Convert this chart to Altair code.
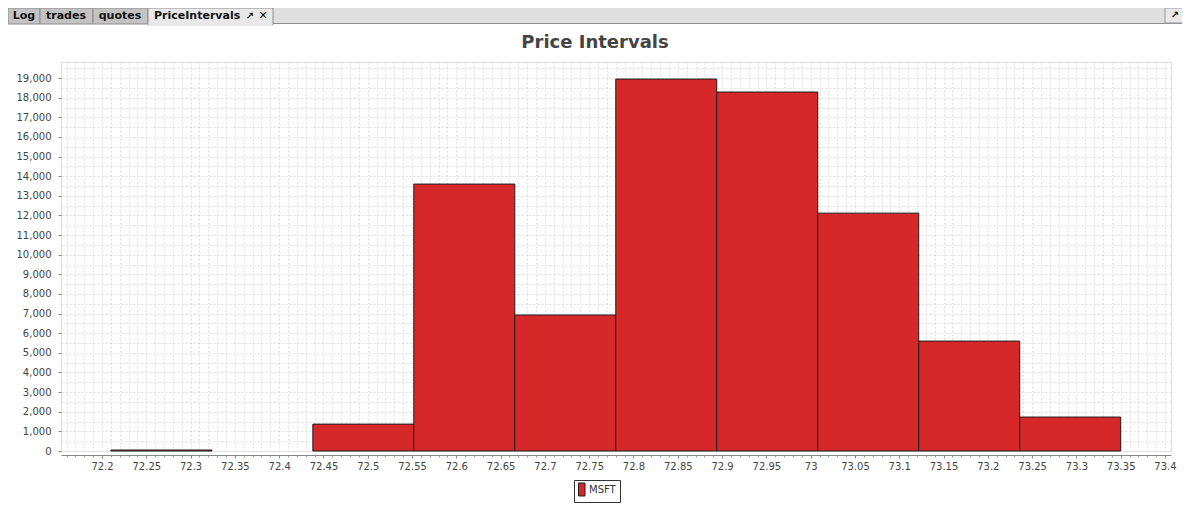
import altair as alt
import pandas as pd

# ---- data ----
bin_start = [72.21, 72.324, 72.438, 72.552, 72.666, 72.78, 72.894, 73.008, 73.122, 73.236]
bin_end = [72.324, 72.438, 72.552, 72.666, 72.78, 72.894, 73.008, 73.122, 73.236, 73.35]
counts = [50, 0, 1370, 13600, 6930, 18950, 18290, 12120, 5600, 1730]
series_name = "MSFT"

x_tick_values = [72.2, 72.25, 72.3, 72.35, 72.4, 72.45, 72.5, 72.55, 72.6, 72.65, 72.7,
                 72.75, 72.8, 72.85, 72.9, 72.95, 73.0, 73.05, 73.1, 73.15, 73.2, 73.25,
                 73.3, 73.35, 73.4]
y_tick_values = [0, 1000, 2000, 3000, 4000, 5000, 6000, 7000, 8000, 9000, 10000, 11000,
                 12000, 13000, 14000, 15000, 16000, 17000, 18000, 19000]
x_grid_values = [round(72.16 + 0.01 * i, 2) for i in range(125)]
y_grid_values = [500 * i for i in range(40)]

title_text = "Price Intervals"
tab_labels = ["Log", "trades", "quotes"]
active_tab = "PriceIntervals"

df = pd.DataFrame({
    "start": bin_start,
    "end": bin_end,
    "count": counts,
    "series": [series_name] * len(counts),
})
deco = pd.DataFrame({"d": [0]})

FONT = "DejaVu Sans"
x_scale = alt.Scale(domain=[72.1537, 73.4068], nice=False, zero=False)
y_scale = alt.Scale(domain=[0, 19820], nice=False, zero=True)


def rect(x1, x2, y1, y2, fill, stroke=None):
    kw = {"fill": fill}
    if stroke:
        kw["stroke"] = stroke
        kw["strokeWidth"] = 1
    return alt.Chart(deco).mark_rect(**kw).encode(
        x=alt.value(x1), x2=alt.value(x2), y=alt.value(y1), y2=alt.value(y2))


def label(txt, x, y, size=11, weight="bold", align="center", color="#111"):
    return alt.Chart(deco).mark_text(
        text=txt, font=FONT, fontSize=size, fontWeight=weight, align=align,
        baseline="alphabetic", color=color).encode(x=alt.value(x), y=alt.value(y))


# ---- window chrome (tab bar) ----
decos = [
    rect(-53, 1121, -54, -38, "#dfdfdf"),
    rect(-53, 1121, -39, -38, "#8c8c8c"),
    rect(-53, -21, -54, -38, "#c3c3c3", "#8c8c8c"),
    rect(-21, 32, -54, -38, "#c3c3c3", "#8c8c8c"),
    rect(32, 87, -54, -38, "#c3c3c3", "#8c8c8c"),
    rect(87, 212, -54, -37, "#e8e8e8", "#8c8c8c"),
    rect(87.5, 211.5, -38.5, -36, "#e8e8e8"),
    rect(1104, 1125, -54, -39, "#e8e8e8", "#999999"),
    label(tab_labels[0], -37, -43),
    label(tab_labels[1], 5, -43),
    label(tab_labels[2], 59, -43),
    label(active_tab, 93, -43, align="left"),
    label("\u2197", 189, -43, size=10),
    label("\u2715", 202, -43, size=11),
    label("\u2197", 1114, -44, size=10),
]

# ---- grid ----
grid = alt.Chart(df).mark_point(opacity=0).encode(
    x=alt.X("start:Q", scale=x_scale,
            axis=alt.Axis(orient="bottom", values=x_grid_values, grid=True,
                          gridColor="#dedede", gridDash=[2, 2], gridWidth=1,
                          labels=False, ticks=False, domain=False, title=None)),
    y=alt.Y("count:Q", scale=y_scale,
            axis=alt.Axis(orient="left", values=y_grid_values, grid=True,
                          gridColor="#dedede", gridDash=[2, 2], gridWidth=1,
                          labels=False, ticks=False, domain=False, title=None)),
)

minor = alt.Chart(df).mark_point(opacity=0).encode(
    x=alt.X("start:Q", scale=x_scale,
            axis=alt.Axis(orient="bottom", offset=4, values=x_grid_values, grid=False,
                          labels=False, ticks=True, tickSize=2, tickColor="#999999",
                          domain=False, title=None)),
)

bars = alt.Chart(df).transform_filter("datum.count > 0").mark_rect(
    stroke="#1e1e1e", strokeWidth=1, opacity=1
).encode(
    x=alt.X("start:Q", scale=x_scale,
            axis=alt.Axis(orient="bottom", offset=4, values=x_tick_values, format="~g",
                          grid=False, tickSize=3, tickColor="#888888",
                          domainColor="#888888", labelFont=FONT, labelFontSize=10,
                          labelColor="#444444", labelPadding=3, labelFlush=False,
                          labelOverlap=False, title=None)),
    x2="end:Q",
    y=alt.Y("count:Q", scale=y_scale,
            axis=alt.Axis(orient="left", values=y_tick_values, format=",d",
                          grid=False, domain=False, tickSize=3, tickColor="#888888",
                          labelFont=FONT, labelFontSize=10, labelColor="#444444",
                          labelPadding=7, labelOverlap=False, title=None)),
    y2=alt.datum(0),
    color=alt.Color("series:N", scale=alt.Scale(range=["#d62828"]),
                    legend=alt.Legend(orient="none", legendX=513, legendY=418,
                                      direction="horizontal", title=None,
                                      symbolType="M-1,-1.3H0.3V1.3H-1Z", symbolSize=100,
                                      symbolStrokeColor="#1e1e1e", symbolStrokeWidth=1,
                                      labelFont=FONT, labelFontSize=10,
                                      labelColor="#333333", labelOffset=0,
                                      padding=4, strokeColor="#333333",
                                      fillColor="white")),
)

title = label(title_text, 534, -14, size=18, color="#444444")

chart = alt.layer(*decos, grid, minor, bars, title).resolve_axis(
    x="independent", y="independent"
).properties(
    width=1110, height=389,
    padding={"left": 53, "top": 54, "right": 11, "bottom": 59},
    autosize=alt.AutoSizeParams(type="none"),
).configure_view(stroke="#888888", strokeWidth=1, fill="white").configure(
    background="white"
)

chart.save("out.html", embed_options={"renderer": "svg", "actions": False})
